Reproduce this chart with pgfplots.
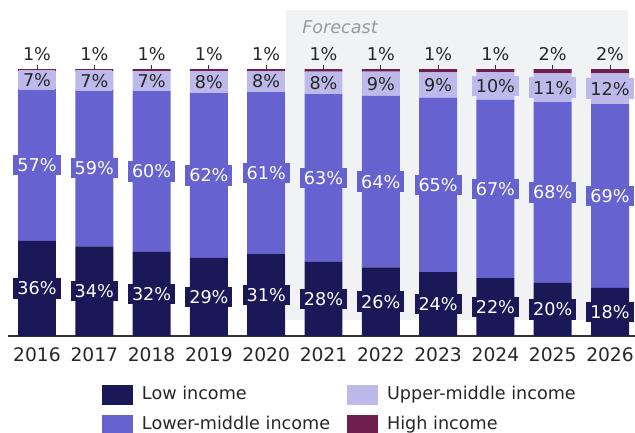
\documentclass[border=0pt]{standalone}
\usepackage{fontspec}
\setmainfont{DejaVu Sans}
\usepackage{pgfplots}
\pgfplotsset{compat=1.18}
\usepackage{pgfplotstable}

\definecolor{lowc}{HTML}{1B1857}
\definecolor{lmc}{HTML}{6662D0}
\definecolor{umc}{HTML}{BDBAEB}
\definecolor{hic}{HTML}{6F1F4E}
\definecolor{bgc}{HTML}{F1F2F4}
\definecolor{fcc}{HTML}{9A9A9A}
\definecolor{textc}{HTML}{262626}
\definecolor{axisc}{HTML}{333333}

\newcommand\lbl{\fontsize{13.2}{15}\selectfont}
\newcommand\tck{\fontsize{14}{16}\selectfont}

\pgfplotstableread{
x low lm um hi
0 35.6 56.9 6.7 0.8
1 33.6 58.5 7.1 0.8
2 31.5 60.3 7.4 0.8
3 29.3 61.7 8.2 0.8
4 30.7 60.7 7.8 0.8
5 27.8 62.8 8.4 1.0
6 25.7 64.2 9.1 1.0
7 23.9 65.4 9.4 1.3
8 21.7 66.7 10.4 1.2
9 19.9 67.7 10.8 1.6
10 18.0 68.8 11.6 1.6
}\bars

\pgfplotstableread{
x ylow llow ylm llm yum lum yhi lhi
0 17.80 36 64.05 57 95.85 7 100.75 1
1 16.80 34 62.85 59 95.65 7 100.75 1
2 15.75 32 61.65 60 95.50 7 100.75 1
3 14.65 29 60.15 62 95.10 8 100.75 1
4 15.35 31 61.05 61 95.30 8 100.75 1
5 13.90 28 59.20 63 94.80 8 100.75 1
6 12.85 26 57.80 64 94.45 9 100.75 1
7 11.95 24 56.60 65 94.00 9 100.75 1
8 10.85 22 55.05 67 93.60 10 100.75 1
9 9.95 20 53.75 68 93.00 11 100.75 2
10 9.00 18 52.40 69 92.60 12 100.75 2
}\labels

\begin{document}
\begin{tikzpicture}
\useasboundingbox (-6.2625pt,-72pt) rectangle (469.9875pt,252pt);
\fill[bgc] (208.2375pt,12pt) rectangle (464.7375pt,244.5pt);
\node[anchor=west, inner sep=0pt, text=fcc, font=\lbl\itshape] at (220.24pt,231.75pt) {Forecast};

\begin{axis}[
  at={(0pt,0pt)}, anchor=south west,
  scale only axis, width=472.725pt, height=200.25pt,
  ybar stacked, bar width=0.663,
  xmin=-0.5, xmax=10.5, ymin=0, ymax=100,
  axis y line=none, axis x line*=bottom,
  x axis line style={draw=axisc, line width=1.2pt},
  xtick={0,...,10},
  xticklabels={2016,2017,2018,2019,2020,2021,2022,2023,2024,2025,2026},
  major tick length=0pt,
  xticklabel style={font=\tck, text=textc, inner sep=0pt, anchor=north, yshift=-8.25pt},
  clip=false,
  legend columns=2, transpose legend, legend cell align=left,
  legend image code/.code={\fill[#1] (0pt,-7.5pt) rectangle (23.25pt,7.5pt);},
  legend style={at={(0.14858,-0.1835)}, anchor=north west, draw=none, fill=none,
    inner sep=0pt, outer sep=0pt, row sep=7.5pt, font=\lbl,
    nodes={inner sep=0pt, text height=9.5pt, text depth=2.5pt, text=textc},
    /tikz/every odd column/.style={column sep=6.75pt},
    /tikz/every even column/.style={column sep=12.75pt}},
]
\addplot[fill=lowc, draw=none] table[x=x,y=low]{\bars};
\addplot[fill=lmc, draw=none] table[x=x,y=lm]{\bars};
\addplot[fill=umc, draw=none] table[x=x,y=um]{\bars};
\addplot[fill=hic, draw=none] table[x=x,y=hi]{\bars};
\legend{Low income, Lower-middle income, Upper-middle income, High income}
\end{axis}

\begin{axis}[
  at={(0pt,0pt)}, anchor=south west,
  scale only axis, width=472.725pt, height=200.25pt,
  xmin=-0.5, xmax=10.5, ymin=0, ymax=100,
  hide axis, clip=false,
]
\addplot[only marks, mark=none, point meta=explicit symbolic,
  nodes near coords={\pgfplotspointmeta\%},
  every node near coord/.style={anchor=center, fill=lowc, text=white, inner xsep=3pt, inner ysep=2.7pt, font=\lbl}]
  table[x=x,y=ylow,meta=llow]{\labels};
\addplot[only marks, mark=none, point meta=explicit symbolic,
  nodes near coords={\pgfplotspointmeta\%},
  every node near coord/.style={anchor=center, fill=lmc, text=white, inner xsep=3pt, inner ysep=2.7pt, font=\lbl}]
  table[x=x,y=ylm,meta=llm]{\labels};
\addplot[only marks, mark=none, point meta=explicit symbolic,
  nodes near coords={\pgfplotspointmeta\%},
  every node near coord/.style={anchor=center, fill=umc, text=textc, inner xsep=3pt, inner ysep=2.7pt, font=\lbl}]
  table[x=x,y=yum,meta=lum]{\labels};
\addplot[only marks, mark=|, mark size=1.5pt, mark options={draw=axisc, line width=0.75pt},
  point meta=explicit symbolic,
  nodes near coords={\pgfplotspointmeta\%},
  every node near coord/.style={anchor=base, yshift=4.5pt, text=textc, inner sep=0pt, font=\lbl}]
  table[x=x,y=yhi,meta=lhi]{\labels};
\end{axis}
\end{tikzpicture}
\end{document}
